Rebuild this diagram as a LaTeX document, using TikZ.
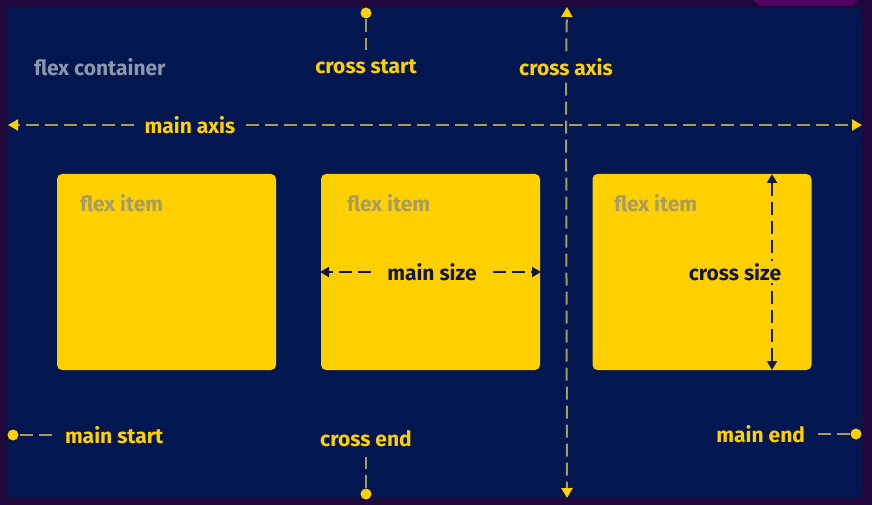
\documentclass[tikz,border=0pt]{standalone}
\usepackage{fontspec}
\setmainfont{Fira Sans}
\usetikzlibrary{arrows.meta}
\definecolor{flexouter}{RGB}{30,8,60}
\definecolor{flexnavy}{RGB}{2,22,80}
\definecolor{flexyellow}{RGB}{255,208,0}
\definecolor{flexdash}{RGB}{166,156,86}
\definecolor{flexgray}{RGB}{140,150,172}
\definecolor{itemgray}{RGB}{168,156,96}
\definecolor{flexink}{RGB}{18,24,58}

\begin{document}
\begin{tikzpicture}[x=1pt,y=-1pt,line width=2pt,
    dashline/.style={flexdash,dash pattern=on 13pt off 6pt},
    sizeline/.style={flexink,dash pattern=on 13pt off 6pt},
    ytip/.style={-{Triangle[width=11pt,length=10pt,flexyellow]}},
    ntip/.style={-{Triangle[width=10pt,length=9pt,flexink]}},
    dot/.style={circle,fill=flexyellow,inner sep=0pt,minimum size=11pt},
    item/.style={fill=flexyellow,rounded corners=5pt,minimum width=219pt,minimum height=196pt,inner sep=0pt},
    lbl/.style={text=flexyellow,font=\fontsize{21}{24}\selectfont\bfseries,inner sep=6pt}]
                \tikzstyle{every node}=[inner sep=0pt]
                % frame
                \fill[flexouter] (0,0) rectangle (872,505);
                \fill[flexnavy] (8,7) rectangle (862,498);
                \fill[flexouter!60!magenta!70!black] (753,0) -- (858,0) -- (852,6) -- (760,6) -- cycle;
                \node[text=flexgray,font=\fontsize{21}{24}\selectfont\bfseries,anchor=west] (fc) at (33,67) {flex container};

                % flex items
                \node[item] (item1) at (166.5,272) {};
                \node[item] (item2) at (430.5,272) {};
                \node[item] (item3) at (702,272) {};
                \node[text=itemgray,font=\fontsize{21}{24}\selectfont\bfseries,anchor=west] (fi1) at (79,203) {flex item};
                \node[text=itemgray,font=\fontsize{21}{24}\selectfont\bfseries,anchor=west] (fi2) at (346,203) {flex item};
                \node[text=itemgray,font=\fontsize{21}{24}\selectfont\bfseries,anchor=west] (fi3) at (613,203) {flex item};

                % axes
                \coordinate (mal) at (8,125);
                \coordinate (mar) at (862,125);
                \coordinate (cat) at (567,7);
                \coordinate (cab) at (567,498);
                \node[lbl,inner xsep=10pt] (mainaxis) at (190,125) {main axis};
                \node[lbl] (crossaxis) at (566,67) {cross axis};
                \draw[dashline,ytip] (mainaxis) -- (mal);
                \draw[dashline,ytip] (mainaxis) -- (mar);
                \draw[dashline,ytip] (crossaxis) -- (cat);
                \draw[dashline,ytip] (crossaxis) -- (cab);

                % start / end
                \node[dot] (csdot) at (366,13) {};
                \node[lbl,inner sep=9pt] (cstart) at (366,67) {cross start};
                \node[dot] (cedot) at (366,494) {};
                \node[lbl,inner sep=9pt] (cend) at (366,439) {cross end};
                \node[dot] (msdot) at (13,435) {};
                \node[lbl,anchor=west,inner sep=9pt] (mstart) at (55,435) {main start};
                \node[dot] (medot) at (856,434) {};
                \node[lbl,anchor=east,inner sep=7pt] (mend) at (813,434) {main end};
                \draw[dashline] (csdot) -- (cstart);
                \draw[dashline] (cedot) -- (cend);
                \draw[dashline] (msdot) -- (mstart);
                \draw[dashline] (medot) -- (mend);

                % sizes
                \node[lbl,text=flexink,inner xsep=15pt] (mainsize) at (432,272) {main size};
                \draw[sizeline,ntip] (mainsize) -- (item2.west);
                \draw[sizeline,ntip] (mainsize) -- (item2.east);
                \coordinate (cst) at (772,174);
                \coordinate (csb) at (772,370);
                \draw[sizeline,ntip] (772,272) -- (cst);
                \draw[sizeline,ntip] (772,272) -- (csb);
                \node[lbl,text=flexink,fill=flexyellow,inner sep=2pt] (crosssize) at (735,272) {cross size};
\end{tikzpicture}
\end{document}
